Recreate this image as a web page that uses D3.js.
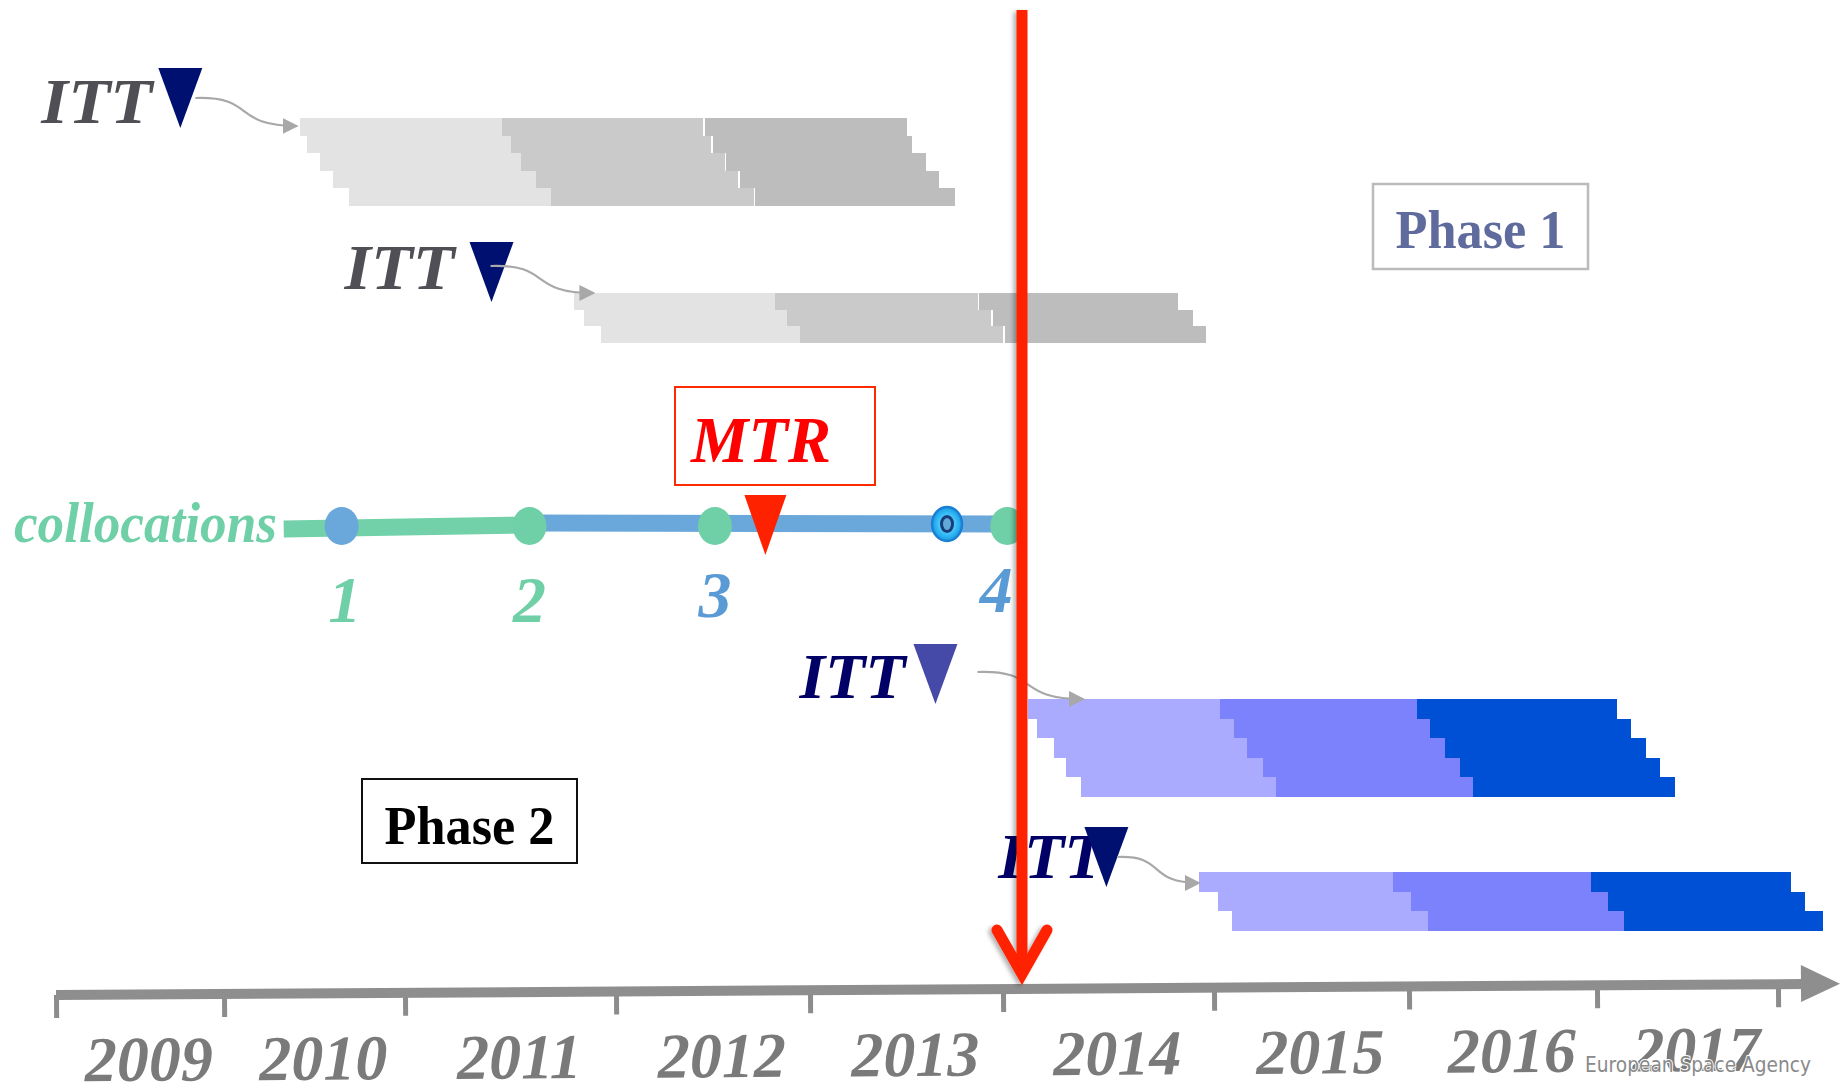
<!DOCTYPE html>
<html>
<head>
<meta charset="utf-8">
<script src="https://cdn.jsdelivr.net/npm/d3@7"></script>
<style>
  html, body { margin: 0; background: #fff; }
  svg { display: block; }
</style>
</head>
<body>
<div id="chart"></div>
<script>
// ---- data (decimal years) ----
const tickYears = [2009, 2010, 2011, 2012, 2013, 2014, 2015, 2016, 2017, 2018];
const yearLabels = ["2009", "2010", "2011", "2012", "2013", "2014", "2015", "2016", "2017"];

const ittDates = [2009.74, 2011.41, 2013.65, 2014.49];

// each row: boundaries of the three consecutive contract periods
const phase1Wave1 = [
  [2010.42, 2011.46, 2012.45, 2013.50],
  [2010.46, 2011.50, 2012.49, 2013.53],
  [2010.53, 2011.55, 2012.56, 2013.60],
  [2010.60, 2011.62, 2012.63, 2013.67],
  [2010.69, 2011.69, 2012.71, 2013.75]
];
const phase1Wave2 = [
  [2011.80, 2012.82, 2013.87, 2014.83],
  [2011.85, 2012.88, 2013.94, 2014.90],
  [2011.93, 2012.95, 2014.00, 2014.96]
];
const phase2Wave1 = [
  [2014.12, 2015.03, 2016.04, 2017.11],
  [2014.16, 2015.10, 2016.11, 2017.19],
  [2014.24, 2015.17, 2016.19, 2017.27],
  [2014.30, 2015.25, 2016.27, 2017.35],
  [2014.37, 2015.32, 2016.34, 2017.43]
];
const phase2Wave2 = [
  [2014.93, 2015.92, 2016.97, 2018.07],
  [2015.02, 2016.01, 2017.06, 2018.15],
  [2015.09, 2016.10, 2017.15, 2018.25]
];

const collocationStart = 2010.33;
const collocationDates = [2010.65, 2011.59, 2012.51, 2014.02];
const collocationLabels = ["1", "2", "3", "4"];
const mtrDate = 2012.77;
const reviewMarkerDate = 2013.71;
const nowDate = 2014.09;

// ---- layout ----
const width = 1843, height = 1085;
const serif = "'Liberation Serif', 'Times New Roman', serif";

const x = d3.scaleLinear()
  .domain(tickYears)
  .range([56, 224, 405, 616, 810, 1003, 1214, 1409, 1597, 1778]);

const svg = d3.select("#chart").append("svg")
  .attr("width", width)
  .attr("height", height)
  .attr("viewBox", [0, 0, width, height]);

const defs = svg.append("defs");
defs.append("marker")
  .attr("id", "conn-head")
  .attr("viewBox", "0 0 10 10")
  .attr("refX", 9).attr("refY", 5)
  .attr("markerWidth", 16).attr("markerHeight", 16)
  .attr("markerUnits", "userSpaceOnUse")
  .attr("orient", "auto")
  .append("path").attr("d", "M0,0 L10,5 L0,10 Z").attr("fill", "#a8a8a8");
const shadow = defs.append("filter").attr("id", "shadow")
  .attr("x", "-50%").attr("y", "-5%").attr("width", "200%").attr("height", "110%");
shadow.append("feDropShadow")
  .attr("dx", -3).attr("dy", 2).attr("stdDeviation", 2)
  .attr("flood-color", "#000").attr("flood-opacity", 0.3);
const ringGrad = defs.append("radialGradient").attr("id", "ring");
ringGrad.append("stop").attr("offset", "0%").attr("stop-color", "#9be4ff");
ringGrad.append("stop").attr("offset", "70%").attr("stop-color", "#2fb8f5");
ringGrad.append("stop").attr("offset", "100%").attr("stop-color", "#1a9ae0");

const grays = ["#e3e3e3", "#cacaca", "#bdbdbd"];
const blues = ["#aaaaff", "#7c81fc", "#0050d6"];

const groups = [
  { rows: phase1Wave1, top: 118, rowH: 17.6, colors: grays, gap: 1.5,
    itt: ittDates[0], triTop: 68, triColor: "#001070", textColor: "#4f4f55",
    textY: 123, textGap: 28, textLen: 111, conn: [15, 30, -3, 8] },
  { rows: phase1Wave2, top: 293, rowH: 16.6, colors: grays, gap: 1.5,
    itt: ittDates[1], triTop: 242, triColor: "#001070", textColor: "#4f4f55",
    textY: 289, textGap: 37, textLen: 110, conn: [-1, 24, 20, 0] },
  { rows: phase2Wave1, top: 699, rowH: 19.6, colors: blues, gap: 0,
    itt: ittDates[2], triTop: 644, triColor: "#4549a8", textColor: "#000066",
    textY: 698, textGap: 30, textLen: 106, conn: [42, 28, 55, 0] },
  { rows: phase2Wave2, top: 872, rowH: 19.7, colors: blues, gap: 0,
    itt: ittDates[3], triTop: 827, triColor: "#001070", textColor: "#000066",
    textY: 878, textGap: 2, textLen: 106, conn: [11, 30, 0, 11] }
];

const triW = 44, triH = 60;
const tri = (cx, top, w, h) => `M${cx - w / 2},${top} L${cx + w / 2},${top} L${cx},${top + h} Z`;

// ---- contract bars ----
groups.forEach(gp => {
  const g = svg.append("g").attr("shape-rendering", "crispEdges");
  gp.rows.forEach((row, i) => {
    const y0 = Math.round(gp.top + i * gp.rowH);
    const y1 = Math.round(gp.top + (i + 1) * gp.rowH);
    g.selectAll(null)
      .data(d3.pairs(row))
      .join("rect")
      .attr("x", (d, j) => x(d[0]) + (j === 2 ? gp.gap : 0))
      .attr("y", y0)
      .attr("width", (d, j) => x(d[1]) - x(d[0]) - (j === 2 ? gp.gap : 0))
      .attr("height", y1 - y0)
      .attr("fill", (d, j) => gp.colors[j]);
  });

  // ITT label + triangle
  const cx = x(gp.itt);
  svg.append("text")
    .attr("x", cx - gp.textGap)
    .attr("y", gp.textY)
    .attr("text-anchor", "end")
    .attr("font-family", serif)
    .attr("font-style", "italic")
    .attr("font-weight", "bold")
    .attr("font-size", 64)
    .attr("textLength", gp.textLen)
    .attr("lengthAdjust", "spacingAndGlyphs")
    .attr("fill", gp.textColor)
    .text("ITT");
  svg.append("path")
    .attr("d", tri(cx, gp.triTop, triW, triH))
    .attr("fill", gp.triColor);

  // curved connector to the first contract
  const [dx0, dy0, dx1, dy1] = gp.conn;
  const x0 = cx + dx0, y0 = gp.triTop + dy0;
  const x1 = x(gp.rows[0][0]) + dx1, y1 = gp.top + dy1;
  const w = x1 - x0;
  svg.append("path")
    .attr("d", `M${x0},${y0} C${x0 + 0.6 * w},${y0 - 2} ${x0 + 0.35 * w},${y1} ${x1},${y1}`)
    .attr("fill", "none")
    .attr("stroke", "#a8a8a8")
    .attr("stroke-width", 2.2)
    .attr("marker-end", "url(#conn-head)");
});

// ---- collocations ----
const colY = d3.scaleLinear().domain([collocationStart, collocationDates[1]]).range([529, 525]);
svg.append("line")
  .attr("x1", x(collocationStart)).attr("y1", colY(collocationStart))
  .attr("x2", x(collocationDates[1])).attr("y2", colY(collocationDates[1]))
  .attr("stroke", "#72d1a8").attr("stroke-width", 17);
svg.append("line")
  .attr("x1", x(collocationDates[1])).attr("y1", 523)
  .attr("x2", x(collocationDates[3])).attr("y2", 524)
  .attr("stroke", "#6aa8dc").attr("stroke-width", 17);

svg.append("text")
  .attr("x", 277).attr("y", 542)
  .attr("text-anchor", "end")
  .attr("font-family", serif).attr("font-style", "italic").attr("font-weight", "bold")
  .attr("font-size", 56)
  .attr("textLength", 263).attr("lengthAdjust", "spacingAndGlyphs")
  .attr("fill", "#6fcfa6")
  .text("collocations");

const dotColors = ["#6aa8dc", "#6fcfa6", "#6fcfa6", "#6fcfa6"];
const numColors = ["#6fcfa6", "#6fcfa6", "#5b9bd5", "#5b9bd5"];
const numY = [622, 622, 617, 612];
const numDx = [3, 0, 0, -11];

// MTR marker on the line
svg.append("path")
  .attr("d", tri(x(mtrDate), 495, 42, 60))
  .attr("fill", "#ff2200");

svg.selectAll(null)
  .data(collocationDates)
  .join("ellipse")
  .attr("cx", d => x(d))
  .attr("cy", 526)
  .attr("rx", 17).attr("ry", 19)
  .attr("fill", (d, i) => dotColors[i]);

svg.selectAll(null)
  .data(collocationLabels)
  .join("text")
  .attr("x", (d, i) => x(collocationDates[i]) + numDx[i])
  .attr("y", (d, i) => numY[i])
  .attr("text-anchor", "middle")
  .attr("font-family", serif).attr("font-style", "italic").attr("font-weight", "bold")
  .attr("font-size", 66)
  .attr("fill", (d, i) => numColors[i])
  .text(d => d);

// small blue ring marker
const rm = svg.append("g").attr("transform", `translate(${x(reviewMarkerDate)},524)`);
rm.append("ellipse").attr("rx", 15).attr("ry", 17)
  .attr("fill", "url(#ring)").attr("stroke", "#1b7fd4").attr("stroke-width", 2.5);
rm.append("ellipse").attr("rx", 5.5).attr("ry", 7.5)
  .attr("fill", "#5fa8d8").attr("stroke", "#173d7a").attr("stroke-width", 3);

// MTR box
svg.append("rect")
  .attr("x", 675).attr("y", 387).attr("width", 200).attr("height", 98)
  .attr("fill", "#fff").attr("stroke", "#ff2a00").attr("stroke-width", 2);
svg.append("text")
  .attr("x", 761).attr("y", 462)
  .attr("text-anchor", "middle")
  .attr("font-family", serif).attr("font-style", "italic").attr("font-weight", "bold")
  .attr("font-size", 66)
  .attr("textLength", 140).attr("lengthAdjust", "spacingAndGlyphs")
  .attr("fill", "#ff0000")
  .text("MTR");

// ---- phase boxes ----
function phaseBox(x0, y0, w, h, stroke, sw, color, label, baseline) {
  svg.append("rect")
    .attr("x", x0).attr("y", y0).attr("width", w).attr("height", h)
    .attr("fill", "#fff").attr("stroke", stroke).attr("stroke-width", sw);
  svg.append("text")
    .attr("x", x0 + w / 2).attr("y", baseline)
    .attr("text-anchor", "middle")
    .attr("font-family", serif).attr("font-weight", "bold")
    .attr("font-size", 54)
    .attr("textLength", 170).attr("lengthAdjust", "spacingAndGlyphs")
    .attr("fill", color)
    .text(label);
}
phaseBox(1373, 184, 215, 85, "#bbbbbb", 2.5, "#5f6b9c", "Phase 1", 248);
phaseBox(362, 779, 215, 84, "#111111", 2, "#000000", "Phase 2", 844);

// ---- time axis (slightly tilted) ----
const axisLeft = x(tickYears[0]), axisRight = 1805;
const angle = Math.atan2(-11, axisRight - axisLeft) * 180 / Math.PI;
const ax = svg.append("g")
  .attr("transform", `translate(0,995) rotate(${angle},${axisLeft},0)`);

ax.append("g")
  .call(d3.axisBottom(x).tickValues(tickYears).tickSize(23).tickFormat(""))
  .call(g => g.select(".domain").remove())
  .call(g => g.selectAll(".tick line").attr("stroke", "#8c8c8c").attr("stroke-width", 5));

ax.append("g")
  .call(d3.axisBottom(x)
    .tickValues(yearLabels.map(d => +d + 0.5))
    .tickSize(0).tickPadding(41)
    .tickFormat(d => String(Math.floor(d))))
  .call(g => g.select(".domain").remove())
  .attr("font-size", null).attr("font-family", null)
  .call(g => g.selectAll(".tick text")
    .attr("dx", 8)
    .attr("font-family", serif)
    .attr("font-style", "italic")
    .attr("font-weight", "bold")
    .attr("font-size", 64)
    .attr("fill", "#7a7a7a"));

ax.append("line")
  .attr("x1", axisLeft).attr("x2", axisRight)
  .attr("stroke", "#8e8e8e").attr("stroke-width", 10);
ax.append("path")
  .attr("d", `M${axisRight - 4},-19 L1840,0 L${axisRight - 4},18 Z`)
  .attr("fill", "#8e8e8e");

// ---- "now" arrow ----
const nx = x(nowDate);
const now = svg.append("g").attr("filter", "url(#shadow)");
now.append("line")
  .attr("x1", nx).attr("x2", nx).attr("y1", 10).attr("y2", 972)
  .attr("stroke", "#ff2200").attr("stroke-width", 11);
now.append("path")
  .attr("d", `M${nx - 25},930 L${nx},974 L${nx + 25},930`)
  .attr("fill", "none")
  .attr("stroke", "#ff2200").attr("stroke-width", 11)
  .attr("stroke-linecap", "round").attr("stroke-linejoin", "miter");

// ---- watermark ----
svg.append("text")
  .attr("x", 1585).attr("y", 1072)
  .attr("font-family", "'DejaVu Sans', sans-serif")
  .attr("font-size", 21)
  .attr("textLength", 226).attr("lengthAdjust", "spacingAndGlyphs")
  .attr("fill", "#8a8a8a")
  .attr("stroke", "#fff").attr("stroke-width", 2).attr("paint-order", "stroke")
  .text("European Space Agency");
</script>
</body>
</html>
